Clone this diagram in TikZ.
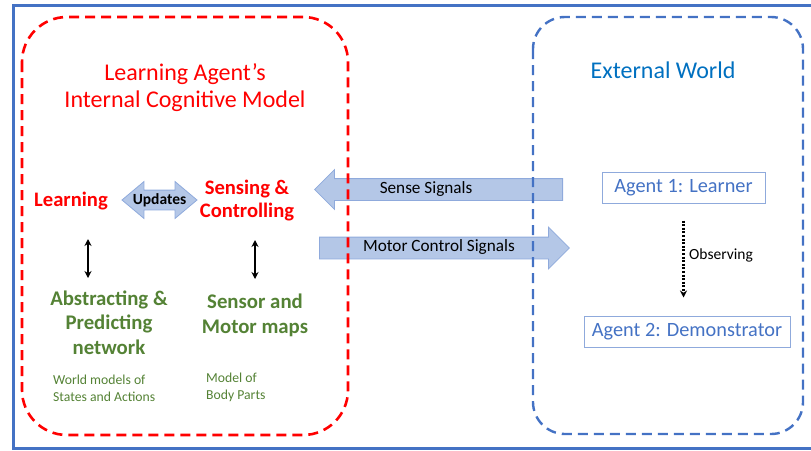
\documentclass[tikz,border=0pt]{standalone}
\usepackage{fontspec}
\setmainfont{Carlito}
\usepackage{xcolor}
\usetikzlibrary{arrows.meta}
\usetikzlibrary{shapes.arrows}

\definecolor{framebl}{RGB}{68,114,196}
\definecolor{worldbl}{RGB}{0,112,192}
\definecolor{mapgreen}{RGB}{84,130,53}
\definecolor{arrfill}{RGB}{180,199,231}
\definecolor{arrline}{RGB}{143,170,220}

\begin{document}
\begin{tikzpicture}[x=1pt, y=-1pt,
    redtxt/.style={text=red, font=\bfseries\fontsize{20.6}{23}\selectfont, align=center, inner sep=0pt, anchor=base},
    greentxt/.style={text=mapgreen, font=\bfseries\fontsize{20.8}{24.5}\selectfont, align=center, inner sep=0pt, anchor=base},
    note/.style={text=mapgreen, font=\fontsize{13.7}{17}\selectfont, align=left, inner sep=0pt, anchor=base west},
    agentbox/.style={draw=arrline, line width=1pt, text=framebl, font=\fontsize{20.3}{23}\selectfont, minimum height=31pt, inner sep=0pt},
    signal/.style={single arrow, draw=arrline, fill=arrfill, line width=0.8pt, font=\fontsize{17.2}{17}\selectfont,
      text height=11pt, text depth=4pt, inner ysep=3pt, inner xsep=0pt, single arrow head extend=9pt, single arrow tip angle=90},
    updown/.style={{Stealth[length=7pt, width=7pt]}-{Stealth[length=7pt, width=7pt]}, line width=2.2pt}]
  \useasboundingbox (0,0) rectangle (811,450);
  \clip (0,0) rectangle (811,450);

  \draw[framebl, line width=3pt] (13,5) rectangle (830,448);

  % signals
  \node[signal, minimum height=248pt, shape border rotate=180, anchor=tail,
    label={[font=\fontsize{17.2}{17}\selectfont, xshift=-18pt]center:Sense Signals}] (sig1) at (563,189.5) {};
  \node[signal, minimum height=250pt, single arrow head extend=10pt, anchor=tail] (sig2) at (319,248) {Motor Control Signals};

  % the two regions
  \draw[red, line width=2.6pt, dash pattern=on 10pt off 6pt, rounded corners=45pt] (22,17) rectangle (348,435);
  \draw[framebl, line width=2.4pt, dash pattern=on 10pt off 6pt, rounded corners=32pt] (533,17) rectangle (803,434);

  % titles
  \node[text=red, font=\fontsize{24}{27}\selectfont, align=center, inner sep=0pt, anchor=base] (model) at (185,107) {Learning Agent’s\\Internal Cognitive Model};
  \node[text=worldbl, font=\fontsize{24}{27}\selectfont, inner sep=0pt, anchor=base] (world) at (663,78) {External World};

  % cognitive model
  \node[redtxt] (learn) at (71,206) {Learning};
  \node[redtxt] (sense) at (247,217) {Sensing \&\\Controlling};
  \node[double arrow, draw=arrline, fill=arrfill, line width=0.8pt, minimum height=75pt, text height=13pt, text depth=0pt,
    inner ysep=3pt, inner xsep=0pt, double arrow head extend=8.5pt, double arrow tip angle=80,
    label={[font=\bfseries\fontsize{15.5}{15}\selectfont]center:Updates}] (upd) at (159.5,200) {};
  \node[greentxt] (abstr) at (109,354) {Abstracting \&\\Predicting\\network};
  \node[greentxt] (maps) at (255,333) {Sensor and\\Motor maps};
  \node[note] (wm) at (53,401) {World models of\\States and Actions};
  \node[note] (bp) at (206,399) {Model of\\Body Parts};

  \coordinate (l1) at (88,239);
  \coordinate (l2) at (88,278);
  \coordinate (s1) at (255,240);
  \coordinate (s2) at (255,279);
  \draw[updown] (l1) -- (l2);
  \draw[updown] (s1) -- (s2);

  % external world
  \node[agentbox, minimum width=163pt] (ag1) at (683.5,187.5) {Agent 1: Learner};
  \node[agentbox, minimum width=206pt] (ag2) at (687,331.5) {Agent 2: Demonstrator};
  \draw[line width=2.2pt, dash pattern=on 2pt off 1.6pt, -{Stealth[length=7pt, width=7pt]}, shorten <=17pt, shorten >=18pt]
    (ag1.south) -- (ag1.south |- ag2.north);
  \node[font=\fontsize{15.5}{15}\selectfont, inner sep=0pt, anchor=base west] (obs) at (689,259) {Observing};
\end{tikzpicture}
\end{document}
